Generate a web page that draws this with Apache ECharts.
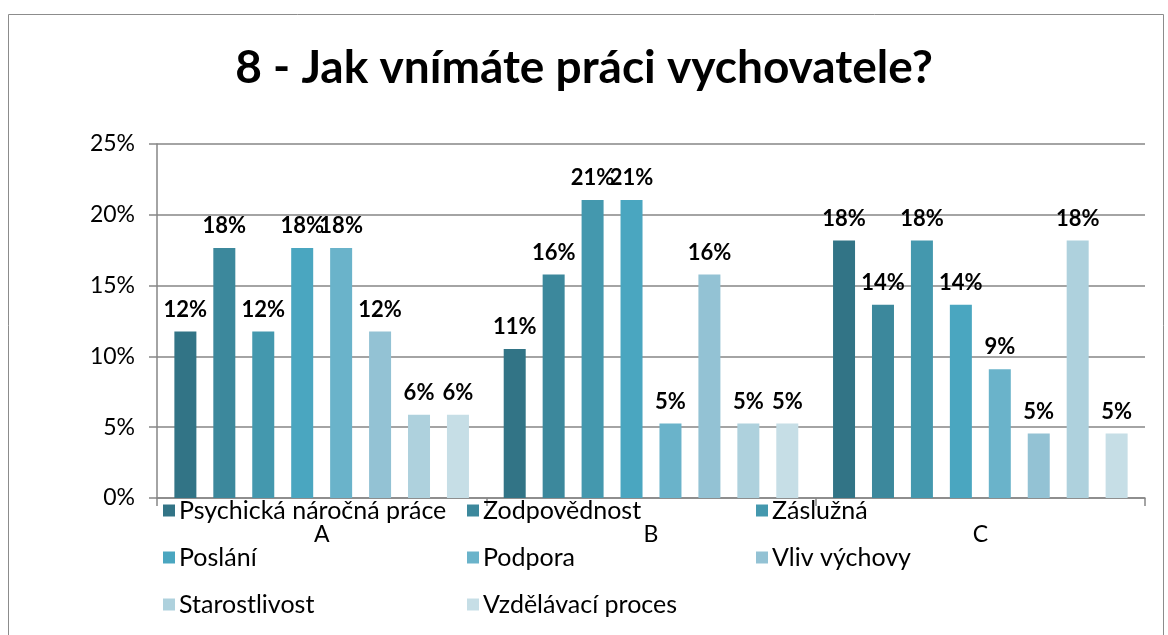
<!DOCTYPE html>
<html>
<head>
<meta charset="utf-8">
<script src="https://cdn.jsdelivr.net/npm/echarts@6/dist/echarts.min.js"></script>
<style>
  html, body { margin: 0; padding: 0; background: #fff; }
  #chart { width: 1168px; height: 635px; }
</style>
</head>
<body>
<div id="chart"></div>
<script>
// categories and series (values in %)
var categories = ['A', 'B', 'C'];
var seriesNames = ['Psychická náročná práce', 'Zodpovědnost', 'Záslužná', 'Poslání',
  'Podpora', 'Vliv výchovy', 'Starostlivost', 'Vzdělávací proces'];
var psychicka = [11.76, 10.53, 18.18];
var zodpovednost = [17.65, 15.79, 13.64];
var zasluzna = [11.76, 21.05, 18.18];
var poslani = [17.65, 21.05, 13.64];
var podpora = [17.65, 5.26, 9.09];
var vlivVychovy = [11.76, 15.79, 4.55];
var starostlivost = [5.88, 5.26, 18.18];
var vzdelavaci = [5.88, 5.26, 4.55];
var yTicks = [0, 5, 10, 15, 20, 25];

var values = [psychicka, zodpovednost, zasluzna, poslani, podpora, vlivVychovy, starostlivost, vzdelavaci];
var colors = ['#327486', '#3c889c', '#4498ae', '#4aa6c0', '#6ab3ca', '#93c2d4', '#aed1dd', '#c6dee6'];
var font = 'Lato, "Open Sans", sans-serif';

var myChart = echarts.init(document.getElementById('chart'));

var series = seriesNames.map(function (name, i) {
  return {
    name: name,
    type: 'bar',
    data: values[i],
    barWidth: 22,
    barGap: '77%',
    itemStyle: { color: colors[i] },
    label: {
      show: true,
      position: 'top',
      distance: 11,
      fontFamily: font,
      fontWeight: 'bold',
      fontSize: 22,
      color: '#000',
      formatter: function (p) { return Math.round(p.value) + '%'; }
    }
  };
});

function legendCol(names, left) {
  return {
    orient: 'vertical',
    left: left,
    top: 493,
    data: names,
    icon: 'rect',
    itemWidth: 12,
    itemHeight: 12,
    itemGap: 22,
    selectedMode: false,
    textStyle: { fontFamily: font, fontSize: 25, color: '#000', lineHeight: 25, padding: [0, 0, 0, -1] }
  };
}

var option = {
  animation: false,
  title: {
    text: '8 - Jak vnímáte práci vychovatele?',
    left: 'center',
    top: 40,
    textStyle: { fontFamily: font, fontWeight: 'bold', fontSize: 46, color: '#000' }
  },
  graphic: [{
    type: 'rect',
    shape: { x: 8.5, y: 14.5, width: 1155, height: 640 },
    style: { fill: 'none', stroke: '#8c8c8c', lineWidth: 1 },
    silent: true
  }],
  legend: [
    legendCol([seriesNames[0], seriesNames[3], seriesNames[6]], 158),
    legendCol([seriesNames[1], seriesNames[4], seriesNames[7]], 462),
    legendCol([seriesNames[2], seriesNames[5]], 751)
  ],
  grid: { left: 157, right: 23, top: 144, bottom: 137 },
  xAxis: {
    type: 'category',
    data: categories,
    axisLine: { lineStyle: { color: '#868686', width: 1.5 } },
    axisTick: { show: true, length: 8, lineStyle: { color: '#868686', width: 1.5 } },
    axisLabel: { fontFamily: font, fontSize: 23, color: '#000', margin: 25 }
  },
  yAxis: {
    type: 'value',
    min: yTicks[0],
    max: yTicks[yTicks.length - 1],
    interval: 5,
    axisLine: { show: true, lineStyle: { color: '#868686', width: 1.5 } },
    axisTick: { show: true, length: 8, lineStyle: { color: '#868686', width: 1.5 } },
    splitLine: { lineStyle: { color: '#868686', width: 1.5 } },
    axisLabel: { fontFamily: font, fontSize: 23, color: '#000', margin: 22,
      formatter: function (v) { return v + '%'; } }
  },
  series: series
};

myChart.setOption(option);
</script>
</body>
</html>
